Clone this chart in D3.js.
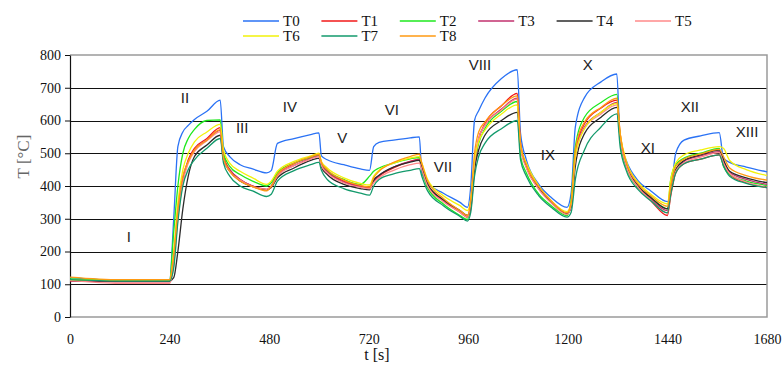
<!DOCTYPE html>
<html>
<head>
<meta charset="utf-8">
<script src="https://cdn.jsdelivr.net/npm/d3@7"></script>
<style>
  body { margin: 0; background: #fff; }
  svg { display: block; }
  .serif { font-family: "Liberation Serif", "DejaVu Serif", "Times New Roman", serif; }
</style>
</head>
<body>
<div id="chart"></div>
<script>
// time points [s]
var times = [0, 120, 240, 250, 260, 272, 285, 300, 330, 362, 370, 385, 410, 440, 474, 485, 500, 540, 580, 600,
  606, 620, 660, 700, 722, 732, 745, 780, 820, 842, 848, 862, 900, 940, 958, 966, 975, 985, 1000, 1040, 1078,
  1086, 1100, 1130, 1160, 1198, 1208, 1218, 1240, 1280, 1318, 1326, 1340, 1370, 1400, 1440, 1448, 1460, 1480,
  1520, 1565, 1575, 1590, 1630, 1680];

// temperatures [°C] read at the time points above
var T0 = [120, 112, 112, 300, 520, 565, 585, 603, 628, 662, 520, 490, 465, 452, 440, 447, 530, 545, 557, 562,
  492, 480, 465, 452, 448, 520, 533, 540, 547, 550, 440, 410, 378, 350, 335, 400, 600, 630, 668, 728, 755,
  560, 480, 405, 365, 335, 380, 580, 670, 718, 742, 540, 480, 415, 385, 352, 380, 500, 540,
  553, 563, 485, 472, 458, 443];
var T1 = [110, 108, 108, 180, 320, 420, 480, 515, 545, 578, 490, 450, 420, 400, 390, 400, 435, 468, 488, 496,
  468, 445, 415, 400, 395, 415, 430, 455, 475, 482, 460, 405, 355, 320, 305, 330, 450, 540, 590, 645, 683,
  530, 460, 395, 352, 315, 340, 500, 590, 638, 662, 560, 470, 395, 355, 310, 370, 440, 468,
  482, 495, 465, 435, 410, 395];
var T2 = [116, 113, 113, 260, 400, 500, 545, 573, 600, 602, 500, 460, 435, 415, 400, 410, 440, 470, 487, 495,
  470, 448, 420, 405, 430, 445, 455, 470, 483, 487, 450, 395, 345, 310, 298, 350, 470, 530, 575, 628, 658,
  490, 440, 375, 340, 310, 360, 520, 610, 655, 680, 540, 460, 395, 365, 330, 420, 465, 485,
  500, 515, 460, 435, 415, 402];
var T3 = [110, 108, 108, 170, 310, 420, 475, 510, 540, 570, 485, 450, 420, 400, 388, 398, 432, 463, 484, 492,
  465, 443, 412, 398, 393, 415, 432, 458, 475, 480, 455, 405, 355, 322, 307, 340, 470, 545, 585, 635, 668,
  520, 458, 392, 350, 315, 340, 490, 580, 625, 655, 550, 468, 398, 360, 325, 390, 450, 475,
  492, 505, 475, 442, 420, 405];
var T4 = [112, 110, 110, 120, 200, 330, 430, 490, 525, 555, 480, 445, 415, 398, 388, 395, 425, 455, 478, 485,
  458, 435, 405, 392, 388, 418, 433, 458, 473, 478, 455, 405, 358, 325, 310, 340, 450, 510, 555, 600, 625,
  520, 462, 395, 352, 316, 335, 460, 560, 610, 640, 550, 470, 400, 365, 330, 385, 450, 478,
  495, 510, 480, 445, 425, 410];
var T5 = [112, 103, 103, 160, 300, 410, 470, 505, 538, 565, 480, 445, 418, 398, 390, 398, 430, 462, 482, 490,
  462, 440, 410, 396, 392, 410, 425, 448, 465, 470, 450, 400, 352, 320, 305, 345, 470, 545, 585, 632, 665,
  515, 455, 390, 348, 313, 340, 485, 575, 620, 648, 545, 465, 395, 357, 318, 380, 445, 470,
  488, 502, 470, 438, 412, 396];
var T6 = [114, 112, 112, 200, 350, 450, 500, 535, 565, 588, 510, 470, 445, 425, 405, 415, 445, 475, 492, 500,
  475, 455, 425, 408, 403, 430, 448, 470, 485, 490, 470, 420, 370, 340, 325, 360, 480, 535, 570, 620, 648,
  520, 470, 400, 355, 322, 350, 490, 575, 625, 652, 560, 480, 410, 375, 345, 420, 470, 495,
  510, 520, 515, 478, 450, 432];
var T7 = [114, 110, 110, 150, 290, 400, 450, 480, 515, 545, 470, 430, 400, 385, 368, 375, 415, 447, 465, 472,
  448, 420, 392, 378, 372, 400, 420, 437, 448, 453, 430, 385, 340, 307, 293, 320, 430, 490, 530, 575, 600,
  480, 430, 370, 335, 305, 320, 420, 510, 580, 620, 520, 450, 388, 355, 318, 375, 440, 468,
  482, 495, 462, 430, 408, 395];
var T8 = [122, 114, 114, 190, 330, 430, 475, 510, 540, 572, 485, 445, 415, 398, 385, 398, 435, 470, 489, 497,
  472, 450, 418, 402, 397, 425, 445, 472, 490, 497, 470, 415, 362, 325, 310, 360, 500, 565, 595, 645, 675,
  530, 465, 398, 355, 318, 350, 510, 595, 640, 668, 560, 475, 405, 370, 338, 400, 460, 482,
  498, 512, 490, 455, 432, 418];

var seriesNames = ["T0", "T1", "T2", "T3", "T4", "T5", "T6", "T7", "T8"];
var seriesValues = [T0, T1, T2, T3, T4, T5, T6, T7, T8];
var colors = ["#2a72f5", "#f21818", "#1ee81e", "#c2306e", "#2b2b2b", "#ff8a8a", "#f2f20a", "#139a6c", "#ff9a12"];

var xTicks = [0, 240, 480, 720, 960, 1200, 1440, 1680];
var yTicks = [0, 100, 200, 300, 400, 500, 600, 700, 800];

// stage labels: [text, t, T]
var stages = [["I", 142, 244], ["II", 277, 669], ["III", 415, 577], ["IV", 530, 641], ["V", 656, 547],
  ["VI", 776, 632], ["VII", 899, 458], ["VIII", 988, 772], ["IX", 1152, 495], ["X", 1248, 772],
  ["XI", 1393, 516], ["XII", 1494, 641], ["XIII", 1632, 565]];

var width = 783, height = 365;
var margin = { left: 70, right: 16, top: 55, bottom: 48 };

var svg = d3.select("#chart").append("svg")
  .attr("width", width)
  .attr("height", height);

var x = d3.scaleLinear().domain([0, 1680]).range([margin.left, width - margin.right]);
var y = d3.scaleLinear().domain([0, 800]).range([height - margin.bottom, margin.top]);

// gridlines
svg.append("g").selectAll("line")
  .data(yTicks.filter(function (d) { return d > 0 && d < 800; }))
  .enter().append("line")
  .attr("x1", x(0)).attr("x2", x(1680))
  .attr("y1", function (d) { return Math.round(y(d)) + 0.5; })
  .attr("y2", function (d) { return Math.round(y(d)) + 0.5; })
  .attr("stroke", "#111")
  .attr("stroke-width", 1.2);

// plot border (top, right, bottom)
svg.append("path")
  .attr("d", ["M", x(0), y(800), "L", x(1680), y(800), "L", x(1680), y(0), "L", x(0), y(0)].join(" "))
  .attr("fill", "none")
  .attr("stroke", "#9a9a9a")
  .attr("stroke-width", 1.5);

// y axis
var yAxis = svg.append("g")
  .attr("transform", "translate(" + x(0) + ",0)")
  .call(d3.axisLeft(y).tickValues(yTicks).tickSize(5).tickPadding(4).tickSizeOuter(0));
yAxis.attr("font-family", null);
yAxis.select(".domain").attr("stroke", "#111").attr("stroke-width", 1.2);
yAxis.selectAll(".tick line").attr("stroke", "#111");
yAxis.selectAll("text").attr("class", "serif").attr("font-size", 14).attr("fill", "#111");

// x axis (labels only)
var xAxis = svg.append("g")
  .attr("transform", "translate(0," + y(0) + ")")
  .call(d3.axisBottom(x).tickValues(xTicks).tickFormat(d3.format("d")).tickSize(0).tickPadding(17));
xAxis.attr("font-family", null);
xAxis.select(".domain").remove();
xAxis.selectAll("text").attr("class", "serif").attr("font-size", 14).attr("fill", "#111");

// axis titles
svg.append("text")
  .attr("class", "serif")
  .attr("x", x(740))
  .attr("y", 360)
  .attr("text-anchor", "middle")
  .attr("font-size", 16)
  .attr("fill", "#111")
  .text("t [s]");

svg.append("text")
  .attr("class", "serif")
  .attr("transform", "translate(29," + y(490) + ") rotate(-90)")
  .attr("text-anchor", "middle")
  .attr("font-size", 17)
  .attr("fill", "#666")
  .text("T [°C]");

// series lines
var line = d3.line()
  .x(function (d, i) { return x(times[i]); })
  .y(function (d) { return y(d); })
  .curve(d3.curveMonotoneX);

svg.append("g").selectAll("path")
  .data(seriesValues)
  .enter().append("path")
  .attr("d", line)
  .attr("fill", "none")
  .attr("stroke", function (d, i) { return colors[i]; })
  .attr("stroke-width", 1.3)
  .attr("stroke-linejoin", "round");

// stage labels
svg.append("g").selectAll("text")
  .data(stages)
  .enter().append("text")
  .attr("x", function (d) { return x(d[1]); })
  .attr("y", function (d) { return y(d[2]); })
  .attr("dy", "0.36em")
  .attr("text-anchor", "middle")
  .attr("font-family", "'Liberation Sans', Arial, sans-serif")
  .attr("font-size", 15)
  .attr("fill", "#222")
  .text(function (d) { return d[0]; });

// legend
var legend = svg.append("g");
var items = legend.selectAll("g")
  .data(seriesNames)
  .enter().append("g")
  .attr("transform", function (d, i) {
    return "translate(" + (243 + (i % 6) * 78.4) + "," + (i < 6 ? 21 : 36) + ")";
  });
items.append("line")
  .attr("x1", 0).attr("x2", 36)
  .attr("stroke", function (d, i) { return colors[i]; })
  .attr("stroke-width", 1.5);
items.append("text")
  .attr("class", "serif")
  .attr("x", 40)
  .attr("dy", "0.35em")
  .attr("font-size", 15)
  .attr("fill", "#111")
  .text(function (d) { return d; });
</script>
</body>
</html>
